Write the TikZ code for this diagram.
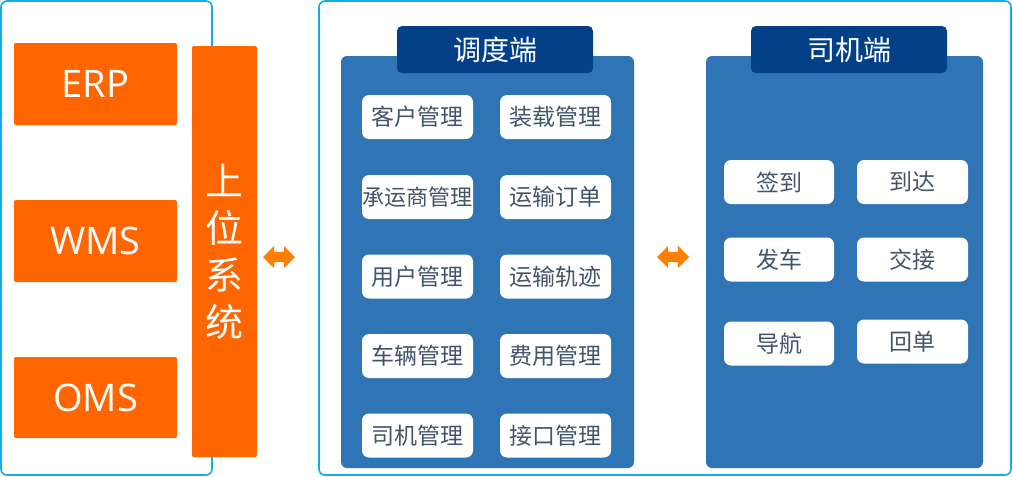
\documentclass[tikz,border=0pt]{standalone}
\usepackage{fontspec}
\setmainfont{Open Sans}
\newfontfamily\cjk{Noto Sans CJK SC}
\usetikzlibrary{shapes.arrows}
\definecolor{orng}{HTML}{FF6600}
\definecolor{arrc}{HTML}{FF8000}
\definecolor{framec}{HTML}{10AEE6}
\definecolor{panelc}{HTML}{2F74B4}
\definecolor{headc}{HTML}{034088}
\definecolor{itemtxt}{HTML}{44546A}
\tikzset{
  frame/.style={draw=framec, line width=1.6pt, fill=white, rounded corners=6pt, inner sep=0pt},
  sysbox/.style={fill=orng, rounded corners=2pt, inner sep=0pt, text=white, font=\fontsize{38}{44}\selectfont},
  panel/.style={fill=panelc, rounded corners=6pt, inner sep=0pt},
  head/.style={fill=headc, rounded corners=5pt, inner sep=0pt, text=white, font=\cjk\fontsize{28}{32}\selectfont},
  item/.style={fill=white, rounded corners=7pt, inner sep=0pt, text=itemtxt, font=\cjk\fontsize{23}{26}\selectfont, minimum height=44pt},
  dbl/.style={double arrow, fill=arrc, inner sep=0pt, inner ysep=5pt, minimum height=32pt, double arrow head extend=6pt}
}
\begin{document}
\begin{tikzpicture}[x=1pt,y=-1pt]
\useasboundingbox (0,0) rectangle (1013,477);
% frames
\node[frame, minimum width=211pt, minimum height=474pt] (lframe) at (106.5,238) {};
\node[frame, minimum width=692pt, minimum height=474pt] (rframe) at (665,238) {};
% left systems
\node[sysbox, minimum width=163pt, minimum height=82pt] (erp) at (95.5,84) {ERP};
\node[sysbox, minimum width=163pt, minimum height=82pt] (wms) at (95.5,241) {WMS};
\node[sysbox, minimum width=163pt, minimum height=81pt] (oms) at (95.5,397.5) {OMS};
\node[sysbox, minimum width=65pt, minimum height=411pt, align=center,
      font=\cjk\fontsize{38}{47}\selectfont] (upper) at (224.5,251.5) {上\\位\\系\\统};
% arrows
\node[dbl] (arr1) at (279,257) {};
\node[dbl] (arr2) at (673,257) {};
% panel 1
\node[panel, minimum width=293pt, minimum height=412pt] (p1) at (487.5,262) {};
\node[head, minimum width=196pt, minimum height=47pt] (h1) at (495,49.5) {调度端};
\node[item, minimum width=111pt] (a1) at (417.5,117) {客户管理};
\node[item, minimum width=111pt] (b1) at (555.5,117) {装载管理};
\node[item, minimum width=111pt, font=\cjk\fontsize{22}{26}\selectfont] (a2) at (417.5,197) {承运商管理};
\node[item, minimum width=111pt] (b2) at (555.5,197) {运输订单};
\node[item, minimum width=111pt] (a3) at (417.5,276.5) {用户管理};
\node[item, minimum width=111pt] (b3) at (555.5,276.5) {运输轨迹};
\node[item, minimum width=111pt] (a4) at (417.5,356) {车辆管理};
\node[item, minimum width=111pt] (b4) at (555.5,356) {费用管理};
\node[item, minimum width=111pt] (a5) at (417.5,435.5) {司机管理};
\node[item, minimum width=111pt] (b5) at (555.5,435.5) {接口管理};
% panel 2
\node[panel, minimum width=277pt, minimum height=412pt] (p2) at (844.5,262) {};
\node[head, minimum width=196pt, minimum height=47pt] (h2) at (849,49.5) {司机端};
\node[item, minimum width=110pt] (c1) at (779,182) {签到};
\node[item, minimum width=111pt] (d1) at (912.5,182) {到达};
\node[item, minimum width=110pt] (c2) at (779,259.5) {发车};
\node[item, minimum width=111pt] (d2) at (912.5,259.5) {交接};
\node[item, minimum width=110pt] (c3) at (779,343.5) {导航};
\node[item, minimum width=111pt] (d3) at (912.5,341.5) {回单};
\end{tikzpicture}
\end{document}
